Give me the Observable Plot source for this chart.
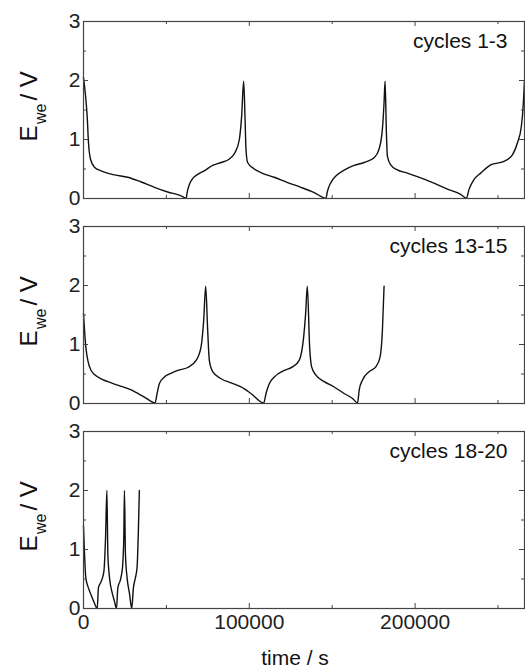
<!DOCTYPE html>
<html><head><meta charset="utf-8">
<script src="https://cdn.jsdelivr.net/npm/d3@7"></script>
<script src="https://cdn.jsdelivr.net/npm/@observablehq/plot@0.6"></script>
<style>body{margin:0;background:#fff} #chart{position:absolute;left:0;top:0}</style>
</head><body><div id="chart"></div><script>
const panels = ["cycles 1-3", "cycles 13-15", "cycles 18-20"];

// cycles 1-3
const t1 = [0,1200,2200,3000,4200,6600,10700,18700,26700,34800,42800,50800,58900,61900,
  62500,63900,65900,68900,72900,77900,83000,88000,91400,94000,95400,96600,
  97400,98000,99000,103000,107000,115000,123100,131100,139200,146200,
  147200,149200,152200,157200,163200,169300,175300,178300,180300,181300,181900,
  182700,183300,185300,189000,195400,203400,211400,219500,227500,231000,
  232500,235500,239600,245600,253600,258700,261700,264100,265300,266000];
const e1 = [2.05,1.75,1.40,0.95,0.67,0.53,0.47,0.40,0.36,0.28,0.19,0.11,0.045,0.005,
  0.10,0.24,0.34,0.41,0.47,0.56,0.61,0.67,0.78,1.00,1.40,1.99,
  1.40,0.84,0.61,0.50,0.44,0.36,0.27,0.19,0.10,0.005,
  0.13,0.27,0.38,0.48,0.56,0.61,0.69,0.84,1.18,1.63,1.99,
  1.12,0.72,0.57,0.49,0.43,0.35,0.26,0.16,0.07,0.005,
  0.15,0.32,0.43,0.57,0.63,0.74,0.94,1.22,1.61,2.00];

// cycles 13-15
const t2 = [0,1400,2600,4600,8700,14700,20700,28700,36700,43200,
  44400,45800,48800,52800,56900,62900,67900,70900,72500,73700,
  74900,75900,77900,83000,89000,95000,101000,108700,
  110100,112100,115100,121100,126100,130100,132800,134000,135000,
  136400,137600,140200,145200,151200,157200,162300,165300,
  166300,168300,172300,176300,178900,180300,181300];
const e2 = [1.52,0.96,0.73,0.56,0.45,0.37,0.31,0.23,0.11,0.01,
  0.17,0.34,0.45,0.51,0.56,0.61,0.73,0.96,1.41,1.99,
  1.24,0.73,0.54,0.42,0.35,0.28,0.17,0.01,
  0.17,0.34,0.45,0.56,0.62,0.73,1.13,1.53,1.99,
  0.96,0.62,0.48,0.37,0.28,0.17,0.085,0.01,
  0.23,0.40,0.54,0.62,0.79,1.24,1.99];

// cycles 18-20
const t3 = [0,1400,2600,4600,6600,8300,9000,10700,12300,13300,14100,
  14700,15700,17100,18700,19900,20700,22300,23500,24300,24700,
  25300,26300,27700,29100,30100,31300,32300,33100,33700];
const e3 = [1.40,0.52,0.38,0.23,0.09,0.0,0.35,0.46,0.63,1.2,2.0,
  0.92,0.52,0.29,0.12,0.0,0.35,0.49,0.69,1.2,2.0,
  0.92,0.52,0.26,0.0,0.35,0.52,0.69,1.32,2.0];

const xTicks = [0, 100000, 200000];
const xMinor = [50000, 150000, 250000];
const yTicks = [0, 1, 2, 3];
const yMinor = [0.5, 1.5, 2.5];

const rows = [];
[[t1, e1], [t2, e2], [t3, e3]].forEach(([t, e], i) =>
  t.forEach((ti, j) => rows.push({panel: panels[i], t: ti, E: e[j]})));

const W = 525, H = 670, mL = 83, mR = 1, mT = 21, mB = 62;
const panelH = 177, plotW = W - mL - mR;
const ink = "#222";

const chart = Plot.plot({
  width: W, height: H,
  marginLeft: mL, marginRight: mR, marginTop: mT, marginBottom: mB,
  style: {fontFamily: "'Liberation Sans', Arial, sans-serif", color: ink, background: "#fff"},
  x: {domain: [0, 266000]},
  y: {domain: [0, 3]},
  fy: {domain: panels, axis: null, paddingInner: 0.1366, paddingOuter: 0},
  marks: [
    Plot.line(rows, {x: "t", y: "E", fy: "panel", z: "panel", curve: "monotone-x", stroke: "#111", strokeWidth: 1.4}),
    Plot.frame({stroke: "#444", strokeWidth: 1.2}),
    // inward ticks on all four sides
    Plot.tickX(xTicks, {x: d => d, insetTop: panelH - 5, stroke: "#444"}),
    Plot.tickX(xTicks, {x: d => d, insetBottom: panelH - 5, stroke: "#444"}),
    Plot.tickX(xMinor, {x: d => d, insetTop: panelH - 3, stroke: "#444"}),
    Plot.tickX(xMinor, {x: d => d, insetBottom: panelH - 3, stroke: "#444"}),
    Plot.tickY(yTicks, {y: d => d, insetRight: plotW - 5, stroke: "#444"}),
    Plot.tickY(yTicks, {y: d => d, insetLeft: plotW - 5, stroke: "#444"}),
    Plot.tickY(yMinor, {y: d => d, insetRight: plotW - 3, stroke: "#444"}),
    Plot.tickY(yMinor, {y: d => d, insetLeft: plotW - 3, stroke: "#444"}),
    Plot.axisY({ticks: yTicks, tickSize: 0, tickPadding: 3, fontSize: 21, tickFormat: d => String(d), label: null}),
    Plot.axisX({ticks: xTicks, tickSize: 0, tickPadding: 6, fontSize: 21, tickFormat: d => String(d), label: null}),
    // panel labels
    Plot.text(panels, {fy: d => d, text: d => d, frameAnchor: "top-right", dx: -17, dy: 12, fontSize: 21, fill: "#111"}),
    // y label  E_we / V
    Plot.text(panels, {fy: d => d, text: () => "E", frameAnchor: "left", rotate: -90, textAnchor: "start", lineAnchor: "bottom", dx: -47, dy: 31.5, fontSize: 24, fill: "#111"}),
    Plot.text(panels, {fy: d => d, text: () => "we", frameAnchor: "left", rotate: -90, textAnchor: "start", lineAnchor: "bottom", dx: -38, dy: 14, fontSize: 16, fill: "#111"}),
    Plot.text(panels, {fy: d => d, text: () => "/ V", frameAnchor: "left", rotate: -90, textAnchor: "start", lineAnchor: "bottom", dx: -47, dy: -9.5, fontSize: 24, fill: "#111"}),
    // x label
    Plot.text(["time / s"], {fy: () => panels[2], text: d => d, frameAnchor: "bottom", lineAnchor: "top", dx: -9, dy: 42, fontSize: 21, fill: "#111"})
  ]
});
document.getElementById("chart").appendChild(chart);
</script></body></html>
